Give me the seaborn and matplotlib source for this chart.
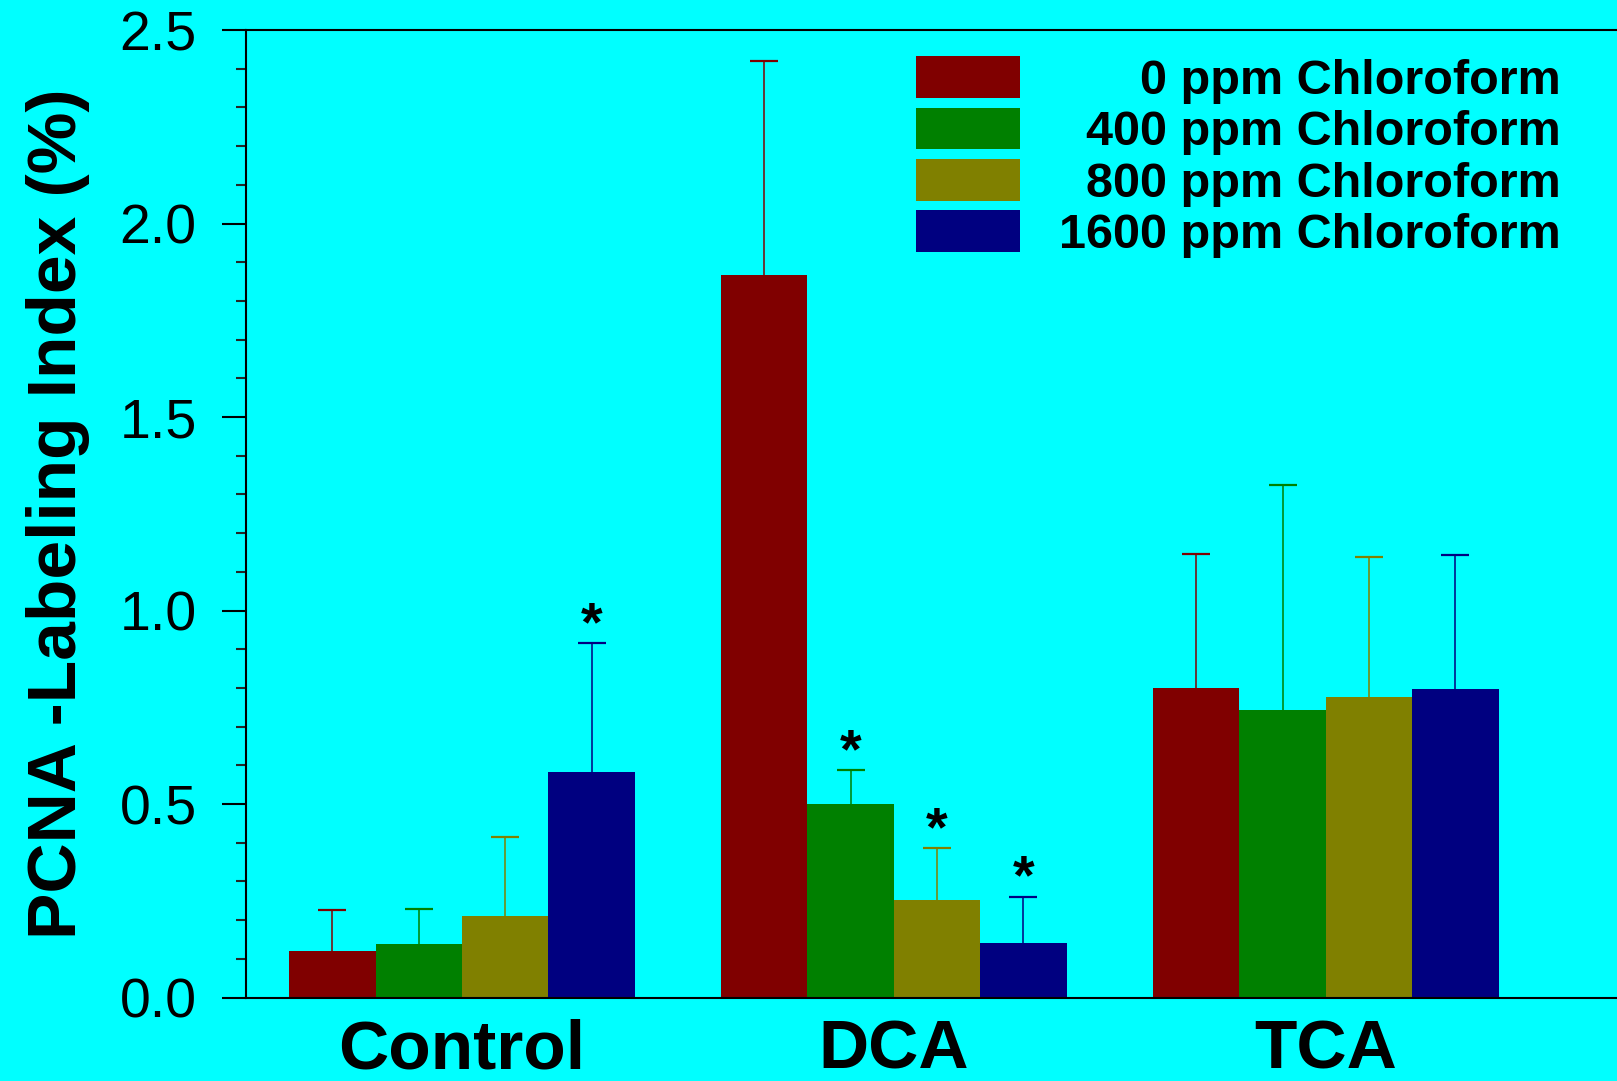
import numpy as np
import pandas as pd
import matplotlib
matplotlib.use("Agg")
import matplotlib.pyplot as plt
from matplotlib.ticker import MultipleLocator, FormatStrFormatter
from matplotlib.container import BarContainer
import seaborn as sns

# ---- data ----
groups = ["Control", "DCA", "TCA"]
doses = ["0 ppm Chloroform", "400 ppm Chloroform", "800 ppm Chloroform", "1600 ppm Chloroform"]

mean_0ppm = [0.120, 1.868, 0.800]
mean_400ppm = [0.139, 0.501, 0.744]
mean_800ppm = [0.210, 0.251, 0.776]
mean_1600ppm = [0.584, 0.141, 0.797]

errtop_0ppm = [0.227, 2.420, 1.146]
errtop_400ppm = [0.229, 0.589, 1.325]
errtop_800ppm = [0.416, 0.386, 1.138]
errtop_1600ppm = [0.917, 0.261, 1.143]

signif_0ppm = [False, False, False]
signif_400ppm = [False, True, False]
signif_800ppm = [False, True, False]
signif_1600ppm = [True, True, False]

colors = ["#800000", "#008000", "#808000", "#000080"]
bg = "#00FFFF"

means = [mean_0ppm, mean_400ppm, mean_800ppm, mean_1600ppm]
errtops = [errtop_0ppm, errtop_400ppm, errtop_800ppm, errtop_1600ppm]
signifs = [signif_0ppm, signif_400ppm, signif_800ppm, signif_1600ppm]

rows = []
for d, m in zip(doses, means):
    for g, v in zip(groups, m):
        rows.append({"group": g, "dose": d, "value": v})
df = pd.DataFrame(rows)

sns.set_theme(style="ticks")
plt.rcParams['font.family'] = ['Liberation Sans', 'DejaVu Sans']

fig = plt.figure(figsize=(16.17, 10.81), dpi=100, facecolor=bg)
ax = fig.add_axes([0.1521, 0.0772, 0.8479, 0.8950])
ax.set_facecolor(bg)

sns.barplot(data=df, x="group", y="value", hue="dose", order=groups,
            hue_order=doses, palette=colors, errorbar=None, width=0.8,
            saturation=1, linewidth=0, ax=ax)

bar_containers = [c for c in ax.containers if isinstance(c, BarContainer)]

# error bars (upper only, no cap at the bar top) and significance stars
for k, cont in enumerate(bar_containers):
    for j, patch in enumerate(cont.patches):
        xc = patch.get_x() + patch.get_width() / 2
        h = patch.get_height()
        top = errtops[k][j]
        ax.vlines(xc, h, top, colors=colors[k], linewidth=1.1, zorder=3)
        ax.plot([xc], [top], marker="_", markersize=20.8, markeredgewidth=1.6,
                color=colors[k], linestyle="none", zorder=3)
        if signifs[k][j]:
            ax.annotate("*", xy=(xc, top), xytext=(0, 2),
                        textcoords="offset points", ha="center", va="baseline",
                        fontsize=40, fontweight="bold", color="black")

ax.set_xlim(-0.5, 2.674)
ax.set_ylim(0, 2.5)
ax.yaxis.set_major_locator(MultipleLocator(0.5))
ax.yaxis.set_minor_locator(MultipleLocator(0.1))
ax.yaxis.set_major_formatter(FormatStrFormatter('%.1f'))

for s in ["left", "bottom", "top"]:
    ax.spines[s].set_visible(True)
    ax.spines[s].set_color("black")
    ax.spines[s].set_linewidth(1.5)
ax.spines["right"].set_visible(False)

ax.tick_params(axis="y", which="major", direction="out", length=17, width=1.5,
               pad=18.5, labelsize=40, colors="black", left=True)
ax.tick_params(axis="y", which="minor", direction="out", length=7.5, width=1.5,
               left=True)
ax.tick_params(axis="x", which="both", length=0, pad=15, labelsize=50,
               colors="black")
for t in ax.get_xticklabels():
    t.set_fontweight("bold")

ax.set_xlabel("")
ax.set_ylabel("PCNA -Labeling Index (%)", fontsize=50, fontweight="bold",
              color="black", labelpad=21)

FS_LEG = 35
PAD_LEG = 0.8
handles, labels = ax.get_legend_handles_labels()
leg = ax.legend(handles, labels, loc="upper left", bbox_to_anchor=(0.4887, 0.973),
                frameon=False, prop={"size": FS_LEG, "weight": "bold"},
                labelcolor="black",
                handlelength=2.15, handleheight=0.94, handletextpad=PAD_LEG,
                labelspacing=0.08, borderpad=0, borderaxespad=0)

# right-align the legend labels (handles stay lined up)
try:
    fig.canvas.draw()
    renderer = fig.canvas.get_renderer()
    texts = leg.get_texts()
    widths = [t.get_window_extent(renderer).width for t in texts]
    wmax = max(widths)
    column = leg._legend_handle_box.get_children()[0]
    base_sep = PAD_LEG * FS_LEG  # points
    for hp, w in zip(column.get_children(), widths):
        hp.sep = base_sep + (wmax - w) * 72.0 / fig.dpi
except Exception:
    pass

fig.savefig("out.png", dpi=100, facecolor=bg)
